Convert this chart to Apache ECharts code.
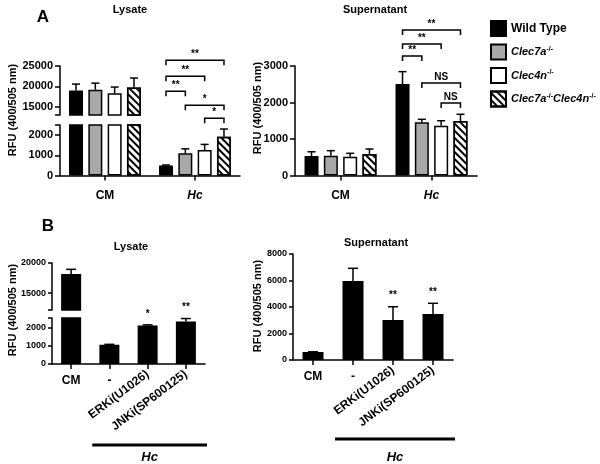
<!DOCTYPE html>
<html lang="en">
<head>
    <meta charset="UTF-8">
    <title>RFU</title>
    <style>
        html,body{ margin:0; padding:0; background:#fff; }
        #chart{ width:600px; height:464px; }
    </style>
</head>
<body>
    <div id="chart"></div>
</body>
</html>
<script src="https://cdn.jsdelivr.net/npm/echarts@6/dist/echarts.min.js"></script>
<script>
    // panel A data
    var groupsA = ['CM', 'Hc'];
    var strains = ['Wild Type', 'Clec7a-/-', 'Clec4n-/-', 'Clec7a-/-Clec4n-/-'];
    var lysA    = [[19000, 500], [19200, 1100], [18300, 1260], [19750, 1920]];
    var lysAErr = [[20570, 520], [20800, 1320], [19850, 1540], [22050, 2300]];
    var supA    = [[534, 2507], [540, 1457], [515, 1365], [590, 1493]];
    var supAErr = [[650, 2845], [680, 1540], [608, 1500], [726, 1677]];
    // brackets: from bar, to bar, height, label
    var sigLysA = [[0, 3, 5700, '**'], [0, 2, 4910, '**'], [0, 1, 4170, '**'], [1, 3, 3480, '*'], [2, 3, 2840, '*']];
    var sigSupA = [[0, 3, 3986, '**'], [0, 2, 3603, '**'], [0, 1, 3274, '**'], [1, 3, 2534, 'NS'], [2, 3, 1986, 'NS']];

    // panel B data
    var treatB  = ['CM', '-', 'ERKi(U1026)', 'JNKi(SP600125)'];
    var lysB    = [18170, 1070, 2130, 2350];
    var lysBErr = [18950, 1090, 2170, 2520];
    var supB    = [600, 5960, 3020, 3470];
    var supBErr = [620, 6920, 4020, 4280];
    var sigLysB = ['', '', '*', '**'];
    var sigSupB = ['', '', '**', '**'];

    var FONT = 'Liberation Sans';
    var BW_A = 14, GAP_A = 0.38;
    var LW = 1.5;

    var barStyles = [
        {color: '#000', borderColor: '#000', borderWidth: LW},
        {color: '#a8a8a8', borderColor: '#000', borderWidth: LW},
        {color: '#fff', borderColor: '#000', borderWidth: LW},
        {color: '#fff', borderColor: '#000', borderWidth: LW,
            decal: {symbol: 'rect', symbolSize: 1, color: '#000', dashArrayX: [1, 0], dashArrayY: [1.6, 2.6], rotation: Math.PI / 4}}
    ];

    function barOffset(i) {
        return (i - 1.5) * BW_A * (1 + GAP_A);
    }

    function errSeries(xi, yi, rows, offset, cap) {
        return {
            type: 'custom', xAxisIndex: xi, yAxisIndex: yi, clip: false, z: 4,
            data: rows,
            renderItem: function (params, api) {
                var b = api.coord([api.value(0), api.value(1)]);
                var t = api.coord([api.value(0), api.value(2)]);
                var cx = b[0] + offset;
                var st = {stroke: '#000', lineWidth: LW};
                return {type: 'group', children: [
                    {type: 'line', shape: {x1: cx, y1: b[1], x2: cx, y2: t[1]}, style: st},
                    {type: 'line', shape: {x1: cx - cap / 2, y1: t[1], x2: cx + cap / 2, y2: t[1]}, style: st}
                ]};
            }
        };
    }

    function bracketSeries(xi, yi, rows) {
        return {
            type: 'custom', xAxisIndex: xi, yAxisIndex: yi, clip: false, z: 5,
            data: rows.map(function (r) { return [1, r[2]]; }),
            renderItem: function (params, api) {
                var r = rows[params.dataIndex];
                var p = api.coord([1, r[2]]);
                var x1 = p[0] + barOffset(r[0]), x2 = p[0] + barOffset(r[1]);
                var y = p[1];
                return {type: 'group', children: [
                    {type: 'polyline', shape: {points: [[x1, y + 5], [x1, y], [x2, y], [x2, y + 5]]},
                        style: {stroke: '#000', lineWidth: LW, fill: null}},
                    {type: 'text', x: (x1 + x2) / 2, y: y - 1,
                        style: {text: r[3], font: 'bold 10px "' + FONT + '"', textAlign: 'center', textVerticalAlign: 'bottom', fill: '#000'}}
                ]};
            }
        };
    }

    function sigTextSeries(xi, yi, labels, tops) {
        var rows = [];
        labels.forEach(function (s, i) { if (s) rows.push([i, tops[i]]); });
        return {
            type: 'custom', xAxisIndex: xi, yAxisIndex: yi, clip: false, z: 5,
            data: rows,
            renderItem: function (params, api) {
                var p = api.coord([api.value(0), api.value(1)]);
                return {type: 'text', x: p[0], y: p[1] - 6,
                    style: {text: labels[api.value(0)], font: 'bold 10px "' + FONT + '"', textAlign: 'center', textVerticalAlign: 'bottom', fill: '#000'}};
            }
        };
    }

    function hcLineSeries(xi, yi, lineDy, textDy) {
        return {
            type: 'custom', xAxisIndex: xi, yAxisIndex: yi, clip: false, z: 5,
            data: [[1, 0]],
            renderItem: function (params, api) {
                var band = api.size([1, 0])[0];
                var a = api.coord([1, 0]);
                var b = api.coord([3, 0]);
                var x1 = a[0] - band / 2 + 2, x2 = b[0] + band / 2 + 2;
                var y = a[1] + lineDy;
                return {type: 'group', children: [
                    {type: 'line', shape: {x1: x1, y1: y, x2: x2, y2: y}, style: {stroke: '#000', lineWidth: 3}},
                    {type: 'text', x: (x1 + x2) / 2, y: a[1] + textDy,
                        style: {text: 'Hc', font: 'italic bold 13px "' + FONT + '"', textAlign: 'center', textVerticalAlign: 'middle', fill: '#000'}}
                ]};
            }
        };
    }

    var axisLineStyle = {show: true, lineStyle: {color: '#000', width: LW}};
    var tickLine = {color: '#000', width: LW};

    function yAx(grid, min, max, labels, ticks, fs, tickLen) {
        return {
            type: 'value', gridIndex: grid, min: min, max: max,
            axisLine: axisLineStyle,
            axisTick: {show: true, length: tickLen, customValues: ticks, lineStyle: tickLine},
            axisLabel: {customValues: labels, fontSize: fs, fontWeight: 'bold', fontFamily: FONT, color: '#000', margin: tickLen + 2,
                formatter: function (v) { return String(v); }},
            splitLine: {show: false}
        };
    }

    var catLabelRich = {i: {fontStyle: 'italic', fontWeight: 'bold', fontSize: 12, fontFamily: FONT, color: '#000'}};
    function xAx(grid, data, show, margin, fmt, extra) {
        var o = {
            type: 'category', gridIndex: grid, data: data, show: show, position: 'bottom',
            axisLine: axisLineStyle,
            axisTick: {show: true, alignWithLabel: true, length: 5, lineStyle: tickLine},
            axisLabel: {interval: 0, fontSize: 12, fontWeight: 'bold', fontFamily: FONT, color: '#000', margin: margin,
                formatter: fmt, rich: catLabelRich},
            splitLine: {show: false}
        };
        if (extra) {
            for (var k in extra) o[k] = extra[k];
        }
        return o;
    }

    function fmtA(v) { return v === 'Hc' ? '{i|Hc}' : v; }

    var series = [];
    strains.forEach(function (name, i) {
        // lysate upper (CM only)
        series.push({type: 'bar', name: name, xAxisIndex: 0, yAxisIndex: 0, data: [lysA[i][0], '-'],
            barWidth: BW_A, barGap: (GAP_A * 100) + '%', itemStyle: barStyles[i], clip: true});
        // lysate lower
        series.push({type: 'bar', name: name, xAxisIndex: 1, yAxisIndex: 1, data: lysA[i],
            barWidth: BW_A, barGap: (GAP_A * 100) + '%', itemStyle: barStyles[i], clip: true});
        // supernatant
        series.push({type: 'bar', name: name, xAxisIndex: 2, yAxisIndex: 2, data: supA[i],
            barWidth: BW_A, barGap: (GAP_A * 100) + '%', itemStyle: barStyles[i], clip: true});
        series.push(errSeries(0, 0, [[0, lysA[i][0], lysAErr[i][0]]], barOffset(i), 8));
        series.push(errSeries(1, 1, [[1, lysA[i][1], lysAErr[i][1]]], barOffset(i), 8));
        series.push(errSeries(2, 2, [[0, supA[i][0], supAErr[i][0]], [1, supA[i][1], supAErr[i][1]]], barOffset(i), 8));
    });
    series.push(bracketSeries(1, 1, sigLysA));
    series.push(bracketSeries(2, 2, sigSupA));

    // panel B
    var blk = {color: '#000', borderColor: '#000', borderWidth: LW};
    series.push({type: 'bar', name: 'B lysate', xAxisIndex: 3, yAxisIndex: 3, data: [lysB[0], '-', '-', '-'],
        barWidth: 20, itemStyle: blk, clip: true});
    series.push({type: 'bar', name: 'B lysate', xAxisIndex: 4, yAxisIndex: 4, data: lysB,
        barWidth: 20, itemStyle: blk, clip: true});
    series.push({type: 'bar', name: 'B sup', xAxisIndex: 6, yAxisIndex: 5, data: supB,
        barWidth: 21, itemStyle: blk, clip: true});
    series.push(errSeries(3, 3, [[0, lysB[0], lysBErr[0]]], 0, 10));
    series.push(errSeries(4, 4, [1, 2, 3].map(function (i) { return [i, lysB[i], lysBErr[i]]; }), 0, 10));
    series.push(errSeries(6, 5, [0, 1, 2, 3].map(function (i) { return [i, supB[i], supBErr[i]]; }), 0, 10));
    series.push(sigTextSeries(4, 4, sigLysB, lysBErr));
    series.push(sigTextSeries(6, 5, sigSupB, supBErr));
    series.push(hcLineSeries(4, 4, 81, 93));
    series.push(hcLineSeries(6, 5, 79, 97));

    function legendFmt(name) {
        if (name.indexOf('-/-') < 0) return name;
        return name.replace(/([A-Za-z0-9]+)-\/-/g, '{i|$1}{s|-/-}');
    }

    function titleAt(text, x, y, fs) {
        return {text: text, left: x, top: y, textAlign: 'center', padding: 0,
            textStyle: {fontSize: fs, fontWeight: 'bold', fontFamily: FONT, color: '#000'}};
    }

    function yName(x, y) {
        return {type: 'text', x: x, y: y, rotation: Math.PI / 2,
            style: {text: 'RFU (400/505 nm)', font: 'bold 11px "' + FONT + '"', textAlign: 'center', textVerticalAlign: 'middle', fill: '#000'}};
    }

    var rotLabels = {axisLine: {show: false}, axisTick: {show: false}};

    var chart = echarts.init(document.getElementById('chart'));
    chart.setOption({
        animation: false,
        backgroundColor: '#fff',
        textStyle: {fontFamily: FONT, color: '#000'},
        title: [
            titleAt('A', 43, 9, 17),
            titleAt('Lysate', 130, 4, 11),
            titleAt('Supernatant', 375, 4, 11),
            titleAt('B', 48, 218, 17),
            titleAt('Lysate', 131, 241, 11),
            titleAt('Supernatant', 376, 237, 11)
        ],
        legend: {
            data: strains, orient: 'vertical', left: 490, top: 20, padding: 0,
            itemWidth: 15, itemHeight: 15, itemGap: 6.5, icon: 'rect',
            formatter: legendFmt,
            textStyle: {fontSize: 12, fontWeight: 'bold', fontFamily: FONT, color: '#000',
                rich: {
                    i: {fontSize: 11, fontStyle: 'italic', fontWeight: 'bold', fontFamily: FONT, color: '#000'},
                    s: {fontSize: 7, fontWeight: 'bold', fontFamily: FONT, color: '#000', verticalAlign: 'top', padding: [0, 0, 6, 0]}
                }}
        },
        grid: [
            {left: 60, top: 66, width: 180, height: 49, outerBoundsMode: 'none'},
            {left: 60, top: 125, width: 180, height: 50.5, outerBoundsMode: 'none'},
            {left: 295, top: 66, width: 182, height: 109.5, outerBoundsMode: 'none'},
            {left: 52, top: 263, width: 153, height: 47, outerBoundsMode: 'none'},
            {left: 52, top: 318, width: 153, height: 46, outerBoundsMode: 'none'},
            {left: 293, top: 254, width: 160, height: 106, outerBoundsMode: 'none'}
        ],
        xAxis: [
            xAx(0, groupsA, false, 14, fmtA),
            xAx(1, groupsA, true, 14, fmtA),
            xAx(2, groupsA, true, 14, fmtA),
            xAx(3, treatB, false, 11),
            xAx(4, treatB, true, 11, function (v, i) { return i < 2 ? v : ''; }),
            xAx(4, treatB, true, 9, function (v, i) { return i >= 2 ? v : ''; }, rotLabels),
            xAx(5, treatB, true, 11, function (v, i) { return i < 2 ? v : ''; }),
            xAx(5, treatB, true, 9, function (v, i) { return i >= 2 ? v : ''; }, rotLabels)
        ],
        yAxis: [
            yAx(0, 13000, 25000, [15000, 20000, 25000], [13000, 15000, 20000, 25000], 11, 5),
            yAx(1, 0, 2500, [0, 1000, 2000], [0, 1000, 2000, 2500], 11, 5),
            yAx(2, 0, 3000, [0, 1000, 2000, 3000], [0, 1000, 2000, 3000], 11, 5),
            yAx(3, 12200, 20000, [15000, 20000], [12200, 15000, 20000], 9, 4),
            yAx(4, 0, 2550, [0, 1000, 2000], [0, 1000, 2000, 2550], 9, 4),
            yAx(5, 0, 8000, [0, 2000, 4000, 6000, 8000], [0, 2000, 4000, 6000, 8000], 9, 4)
        ],
        graphic: [yName(13, 110), yName(258, 108), yName(13, 310), yName(258, 306)],
        series: series
    });
    // rotated treatment labels
    chart.setOption({xAxis: [{}, {}, {}, {}, {}, {axisLabel: {rotate: 37}}, {}, {axisLabel: {rotate: 37}}]});
</script>
